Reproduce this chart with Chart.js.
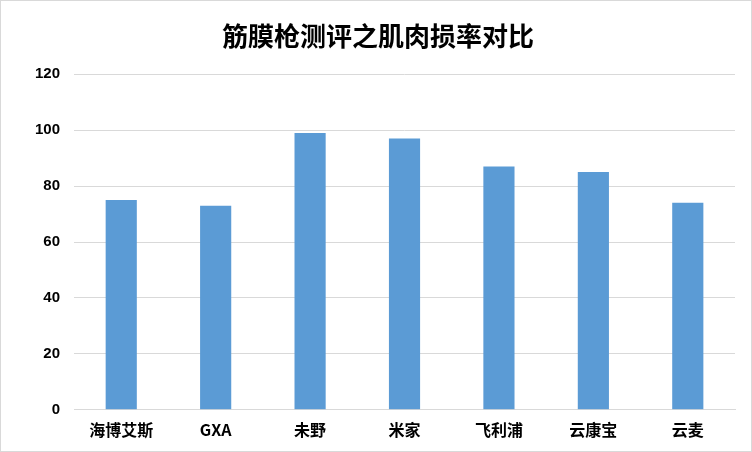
<!DOCTYPE html>
<html>
<head>
<meta charset="utf-8">
<script src="https://cdn.jsdelivr.net/npm/chart.js@4"></script>
<style>
  html, body { margin: 0; padding: 0; background: #fff; }
  #wrap { position: absolute; left: 0; top: 0; width: 750px; height: 450px; border: 1px solid #d9d9d9; }
</style>
</head>
<body>
<div id="wrap"><canvas id="chart"></canvas></div>
<script>
const title = "筋膜枪测评之肌肉损率对比";
const categories = ["海博艾斯", "GXA", "未野", "米家", "飞利浦", "云康宝", "云麦"];
const values = [75, 73, 99, 97, 87, 85, 74];

const ctx = document.getElementById("chart");

new Chart(ctx, {
    type: "bar",
    data: {
        labels: categories,
        datasets: [{
            data: values,
            backgroundColor: "#5b9bd5",
            borderWidth: 0,
            barPercentage: 0.33,
            categoryPercentage: 1
        }]
    },
    options: {
        responsive: true,
        maintainAspectRatio: false,
        animation: false,
        layout: { padding: { left: 20, right: 16, top: 10, bottom: 8 } },
        plugins: {
            legend: { display: false },
            tooltip: { enabled: false },
            title: {
                display: true,
                text: title,
                color: "#000",
                font: { family: "Noto Sans CJK SC", size: 26 },
                padding: { top: 10, bottom: 22 }
            }
        },
        scales: {
            x: {
                grid: { display: false },
                border: { color: "#d9d9d9" },
                ticks: {
                    color: "#000",
                    font: { family: "Noto Sans CJK SC", size: 16, weight: "bold" }
                }
            },
            y: {
                min: 0,
                max: 120,
                grid: { color: "#d9d9d9", drawTicks: false },
                border: { display: false },
                ticks: {
                    stepSize: 20,
                    padding: 14,
                    color: "#000",
                    font: { family: "Liberation Sans", size: 15, weight: "bold" }
                }
            }
        }
    }
});
</script>
</body>
</html>
